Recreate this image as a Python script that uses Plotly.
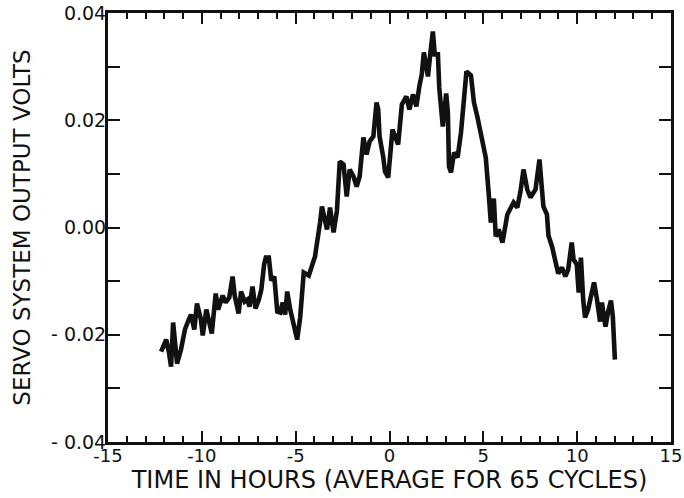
import plotly.graph_objects as go

# Time in hours (average for 65 cycles)
hours = [
    -12.17, -11.90, -11.75, -11.64, -11.53, -11.39, -11.32, -11.11, -10.90, -10.74,
    -10.58, -10.40, -10.26, -10.05, -9.95, -9.76, -9.60, -9.47, -9.26, -9.13,
    -8.89, -8.73, -8.54, -8.36, -8.25, -8.04, -7.91, -7.72, -7.57, -7.46,
    -7.30, -7.14, -6.96, -6.83, -6.68, -6.59, -6.43, -6.30, -6.14, -5.98,
    -5.82, -5.69, -5.56, -5.45, -5.29, -5.10, -4.92, -4.76, -4.57, -4.30,
    -4.13, -3.97, -3.70, -3.60, -3.33, -3.17, -2.98, -2.80, -2.65, -2.45,
    -2.28, -2.12, -1.92, -1.75, -1.59, -1.39, -1.22, -1.06, -0.86, -0.69,
    -0.60, -0.53, -0.33, -0.24, -0.07, 0.16, 0.46, 0.66, 0.90, 1.06,
    1.25, 1.43, 1.59, 1.72, 1.83, 2.05, 2.17, 2.31, 2.41, 2.58,
    2.65, 2.75, 2.84, 3.02, 3.11, 3.17, 3.28, 3.44, 3.63, 3.81,
    3.97, 4.10, 4.34, 4.50, 4.69, 4.87, 5.13, 5.29, 5.40, 5.56,
    5.66, 5.82, 6.02, 6.28, 6.46, 6.61, 6.81, 6.98, 7.14, 7.34,
    7.51, 7.78, 7.99, 8.20, 8.39, 8.47, 8.66, 8.84, 8.99, 9.19,
    9.37, 9.52, 9.71, 9.81, 9.98, 10.08, 10.20, 10.32, 10.42, 10.58,
    10.78, 10.90, 11.04, 11.22, 11.32, 11.51, 11.64, 11.80, 11.90, 12.01,
]

# Servo system output (volts)
volts = [
    -0.02313, -0.02090, -0.02332, -0.02593, -0.01772, -0.02276, -0.02537, -0.02276, -0.01903, -0.01754,
    -0.01623, -0.01903, -0.01418, -0.01716, -0.02015, -0.01530, -0.01810, -0.01978, -0.01231, -0.01530,
    -0.01269, -0.01399, -0.01306, -0.00914, -0.01269, -0.01604, -0.01194, -0.01381, -0.01343, -0.01474,
    -0.01101, -0.01511, -0.01343, -0.01157, -0.00690, -0.00560, -0.00560, -0.00989, -0.00914, -0.01567,
    -0.01586, -0.01399, -0.01623, -0.01194, -0.01530, -0.01847, -0.02090, -0.01679, -0.00840, -0.00896,
    -0.00728, -0.00541, 0.00093, 0.00392, -0.00037, 0.00373, -0.00093, 0.00317, 0.01231, 0.01175,
    0.00578, 0.01082, 0.00951, 0.00765, 0.00951, 0.01679, 0.01362, 0.01604, 0.01698, 0.02332,
    0.02201, 0.01698, 0.01306, 0.01045, 0.00933, 0.01828, 0.01549, 0.02295, 0.02444, 0.02201,
    0.02481, 0.02257, 0.02631, 0.02854, 0.03265, 0.02817, 0.03228, 0.03657, 0.03228, 0.03228,
    0.02612, 0.02257, 0.01884, 0.02500, 0.02146, 0.01138, 0.01026, 0.01399, 0.01306, 0.01772,
    0.02519, 0.02910, 0.02836, 0.02332, 0.02052, 0.01735, 0.01306, 0.00616, 0.00093, 0.00541,
    -0.00168, -0.00037, -0.00280, 0.00243, 0.00354, 0.00466, 0.00373, 0.00672, 0.01082, 0.00709,
    0.00560, 0.00709, 0.01269, 0.00392, 0.00243, -0.00149, -0.00354, -0.00690, -0.00858, -0.00746,
    -0.00914, -0.00784, -0.00280, -0.00597, -0.00690, -0.01213, -0.00560, -0.01343, -0.01679, -0.01530,
    -0.01157, -0.01026, -0.01306, -0.01754, -0.01399, -0.01847, -0.01586, -0.01362, -0.01660, -0.02463,
]

x_tickvals = [-15, -10, -5, 0, 5, 10, 15]
x_ticktext = ["-15", "-10", "-5", "0", "5", "10", "15"]
y_tickvals = [0.04, 0.02, 0.00, -0.02, -0.04]
y_ticktext = ["0.04", "0.02", "0.00", "- 0.02", "- 0.04"]

FONT = "DejaVu Sans"
INK = "#111111"

fig = go.Figure()
fig.add_trace(go.Scatter(
    x=hours, y=volts, mode="lines",
    line=dict(color=INK, width=4.6),
    hoverinfo="skip", showlegend=False,
))

fig.update_layout(
    width=684, height=498,
    margin=dict(l=108, r=13, t=13, b=56),
    paper_bgcolor="white", plot_bgcolor="white",
    font=dict(family=FONT, color=INK),
)

fig.update_xaxes(
    range=[-15, 15], automargin=False,
    tickmode="array", tickvals=x_tickvals, ticktext=x_ticktext,
    ticks="inside", ticklen=11, tickwidth=2, tickcolor=INK,
    minor=dict(dtick=1, tick0=0, ticks="inside", ticklen=6, tickwidth=2, tickcolor=INK, showgrid=False),
    showline=True, linewidth=3, linecolor=INK, mirror="ticks",
    showgrid=False, zeroline=False,
    tickfont=dict(size=18, family=FONT),
    ticklabelstandoff=-5,
    title=dict(text="TIME IN HOURS (AVERAGE FOR 65 CYCLES)", font=dict(size=24, family=FONT), standoff=0),
)

fig.update_yaxes(
    range=[-0.04, 0.04], automargin=False,
    tickmode="array", tickvals=y_tickvals, ticktext=y_ticktext,
    ticks="inside", ticklen=12, tickwidth=2, tickcolor=INK,
    minor=dict(dtick=0.01, tick0=0, ticks="inside", ticklen=12, tickwidth=2, tickcolor=INK, showgrid=False),
    showline=True, linewidth=3, linecolor=INK, mirror="ticks",
    showgrid=False, zeroline=False,
    tickfont=dict(size=19, family=FONT),
    ticklabelstandoff=-5,
    title=dict(text="SERVO SYSTEM OUTPUT VOLTS", font=dict(size=23, family=FONT), standoff=14),
)

fig.write_html("out.html", config={"displayModeBar": False},
               post_script="document.body.style.margin='0';")
